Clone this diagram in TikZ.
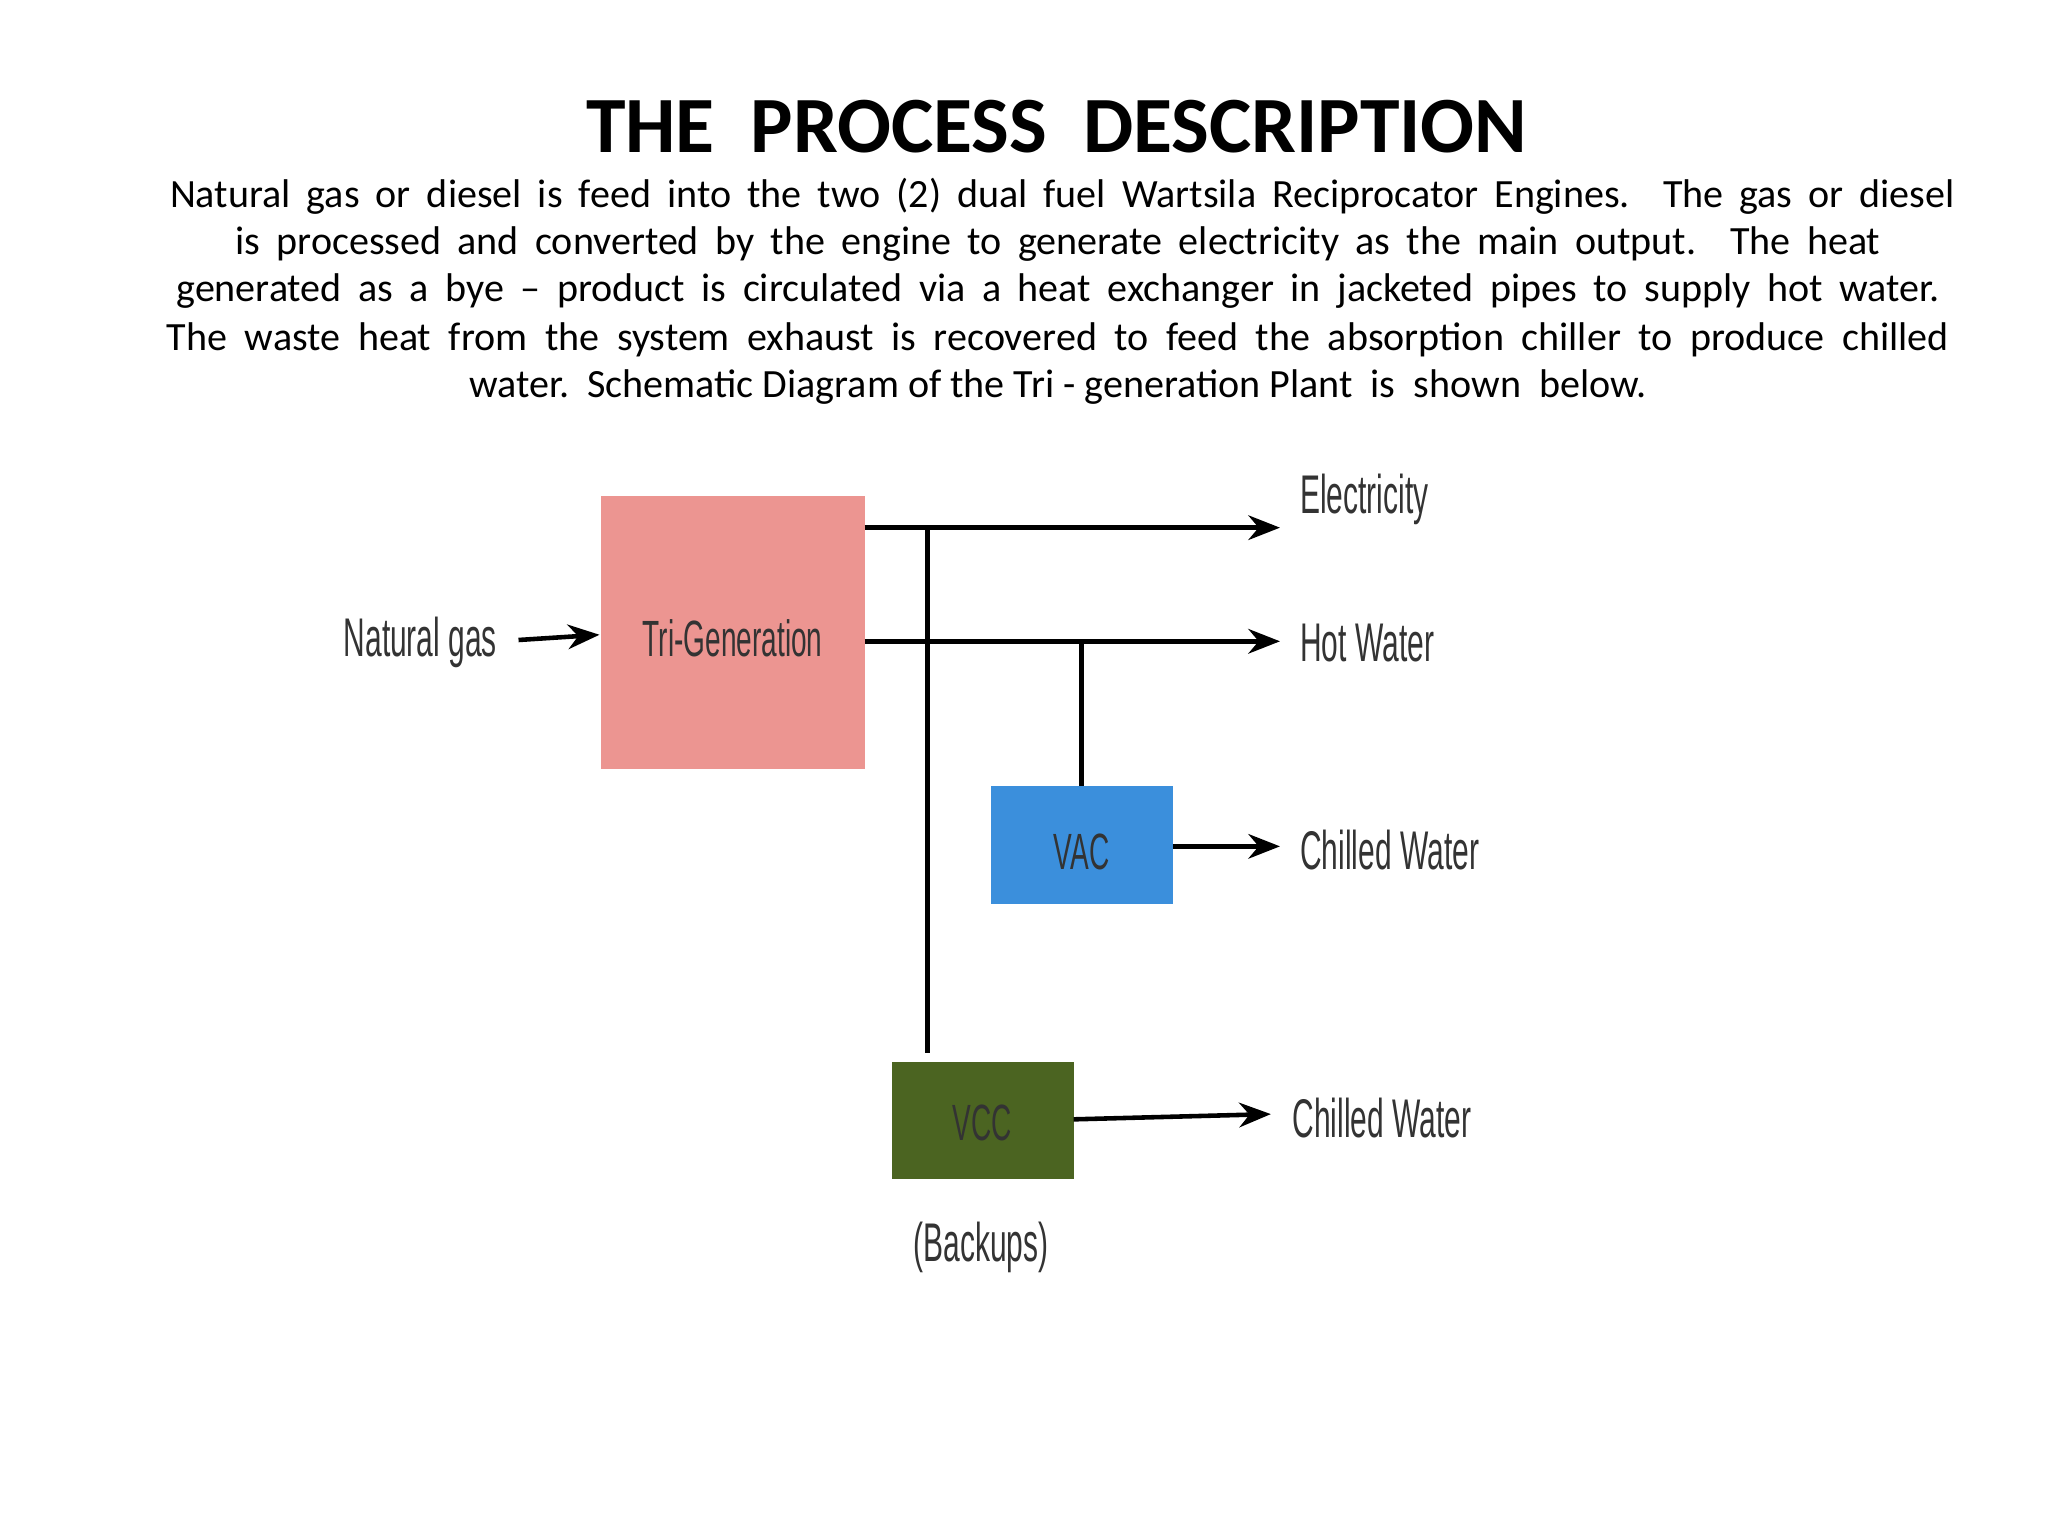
\documentclass[tikz,border=0pt]{standalone}
\usepackage{fontspec}
\setmainfont{Carlito}
\newfontfamily\lab{Liberation Sans}
\usetikzlibrary{arrows.meta}
\definecolor{pinkbox}{HTML}{EC9591}
\definecolor{bluebox}{HTML}{3B8FDC}
\definecolor{greenbox}{HTML}{4B6421}
\definecolor{labgray}{HTML}{333333}
\tikzset{
  blk/.style={draw=none,inner sep=0pt},
  lbl/.style={inner sep=0pt,text=labgray,font=\lab\fontsize{15.5}{18}\selectfont},
  inlbl/.style={lbl,font=\lab\fontsize{14.5}{17}\selectfont},
  ln/.style={line width=1.3pt,black},
  arr/.style={ln,-{Stealth[length=9pt,width=7pt]}},
  body/.style={inner sep=0pt,font=\fontsize{11.4}{14}\selectfont}
}
\newcommand{\cond}[1]{\scalebox{0.55}[1]{#1}}
\begin{document}
\begin{tikzpicture}[x=0.01306cm,y=-0.01306cm]
\useasboundingbox (0,0) rectangle (1568,1176);
\node[inner sep=0pt,font=\bfseries\fontsize{22.7}{26}\selectfont] (title) at (809,97) {THE\ \ PROCESS\ \ DESCRIPTION};
\node[body] (l1) at (813.5,150) {\makebox[17.85cm][s]{Natural gas or diesel is feed into the two (2) dual fuel Wartsila Reciprocator Engines. The gas or diesel}};
\node[body] (l2) at (810,187) {\makebox[16.45cm][s]{is processed and converted by the engine to generate electricity as the main output. The heat}};
\node[body] (l3) at (810,223) {\makebox[17.63cm][s]{generated as a bye -- product is circulated via a heat exchanger in jacketed pipes to supply hot water.}};
\node[body] (l4) at (810,260) {\makebox[17.82cm][s]{The waste heat from the system exhaust is recovered to feed the absorption chiller to produce chilled}};
\node[body] (l5) at (810,296) {water.\ \ Schematic Diagram of the Tri - generation Plant\ \ is\ \ shown\ \ below.};

\path[fill=pinkbox] (460,380) rectangle (662,589);
\node[inlbl] (tri) at (561,489) {\cond{Tri-Generation}};
\path[fill=bluebox] (759,602) rectangle (898,692);
\node[inlbl] (vac) at (828,652) {\cond{VAC}};
\path[fill=greenbox] (683,813) rectangle (822,903);
\node[inlbl] (vcc) at (752,860) {\cond{VCC}};

\coordinate (triE1) at (662,404);
\coordinate (triE2) at (662,491);
\coordinate (elE) at (980,404);
\coordinate (hwE) at (980,491);
\node[lbl,anchor=west] (elec) at (995,382) {\cond{Electricity}};
\node[lbl,anchor=west] (hw) at (995,492) {\cond{Hot Water}};
\node[lbl,anchor=west] (cw1) at (995,651) {\cond{Chilled Water}};
\node[lbl,anchor=west] (cw2) at (989,856) {\cond{Chilled Water}};
\node[lbl,anchor=east] (ng) at (381,492) {\cond{Natural gas}};
\node[lbl] (bk) at (751,955) {\cond{(Backups)}};

\draw[arr] (triE1) -- (elE);
\draw[arr] (triE2) -- (hwE);
\draw[ln] (710,404) -- (710,806);
\draw[ln] (828,491) -- (828,602);
\draw[arr] (397,490) -- (459,486);
\draw[arr] (898,648) -- (980,648);
\draw[arr] (822,857) -- (973,853);
\end{tikzpicture}
\end{document}
